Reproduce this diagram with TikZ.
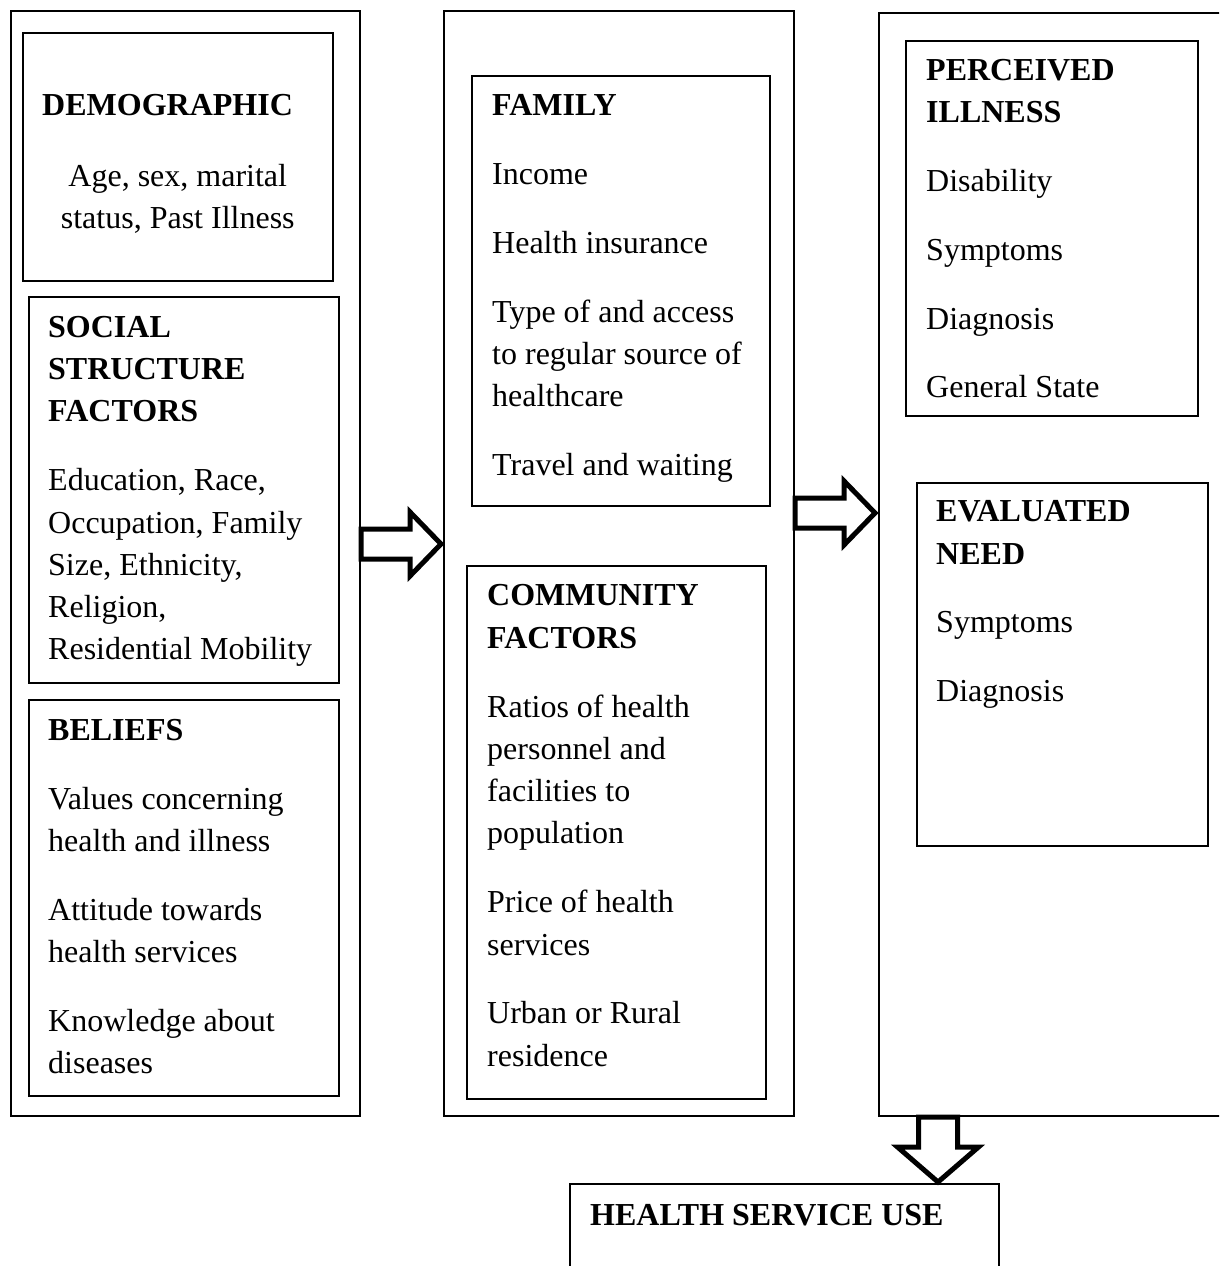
\documentclass[tikz,border=0pt]{standalone}
\usepackage{fontspec}
\setmainfont{Liberation Serif}
\usetikzlibrary{positioning}

\begin{document}
\begin{tikzpicture}[x=1pt,y=-1pt,line join=miter,
  colbox/.style={draw,line width=2pt,inner sep=0pt,anchor=north west},
  inbox/.style={draw,line width=1.5pt,inner sep=0pt,anchor=north west},
  txt/.style={inner sep=0pt,align=left,font=\fontsize{32}{42.3}\selectfont},
  blockarrow/.style={draw,line width=5pt,fill=white},
  pics/rarrow/.style={code={\draw[blockarrow] (0,-15) -- (49,-15) -- (49,-32) -- (80,0) -- (49,32) -- (49,15) -- (0,15) -- cycle;}},
  pics/darrow/.style={code={\draw[blockarrow] (-19.5,0) -- (-19.5,30) -- (-40.5,30) -- (0,65) -- (40.5,30) -- (19.5,30) -- (19.5,0) -- cycle;}}]
\useasboundingbox (0,0) rectangle (1219,1266);
\clip (0,0) rectangle (1219,1266);
% three columns
\node[colbox,minimum width=349,minimum height=1105] (colA) at (10,10) {};
\node[colbox,minimum width=350,minimum height=1105] (colB) at (443,10) {};
\node[colbox,minimum width=360,minimum height=1103] (colC) at (878,12) {};
% left column
\node[inbox,minimum width=310,minimum height=248] (demo) at (22,32) {};
\node[txt,below right=62pt and 20pt of demo.north west] (demoT) {\textbf{DEMOGRAPHIC}};
\node[txt,align=center,below=132pt of demo.north] (demoB) {Age, sex, marital\\status, Past Illness};
\node[inbox,minimum width=310,minimum height=386] (social) at (28,296) {};
\node[txt,below right=20pt and 20pt of social.north west] (socialT) {\textbf{SOCIAL}\\\textbf{STRUCTURE}\\\textbf{FACTORS}\\[26.5pt]
  Education, Race,\\Occupation, Family\\Size, Ethnicity,\\Religion,\\Residential Mobility};
\node[inbox,minimum width=310,minimum height=396] (belief) at (28,699) {};
\node[txt,below right=20pt and 20pt of belief.north west] (beliefT) {\textbf{BELIEFS}\\[26.5pt]
  Values concerning\\health and illness\\[26.5pt]Attitude towards\\health services\\[26.5pt]Knowledge about\\diseases};
% middle column
\node[inbox,minimum width=298,minimum height=430] (family) at (471,75) {};
\node[txt,below right=19.5pt and 21pt of family.north west] (familyT) {\textbf{FAMILY}\\[26.5pt]
  Income\\[26.5pt]Health insurance\\[26.5pt]Type of and access\\to regular source of\\healthcare\\[26.5pt]Travel and waiting};
\node[inbox,minimum width=299,minimum height=533] (commun) at (466,565) {};
\node[txt,below right=19.5pt and 21pt of commun.north west] (communT) {\textbf{COMMUNITY}\\\textbf{FACTORS}\\[26.5pt]
  Ratios of health\\personnel and\\facilities to\\population\\[26.5pt]Price of health\\services\\[26.5pt]Urban or Rural\\residence};
% right column
\node[inbox,minimum width=292,minimum height=375] (perceiv) at (905,40) {};
\node[txt,below right=19pt and 21pt of perceiv.north west] (perceivT) {\textbf{PERCEIVED}\\\textbf{ILLNESS}\\[26.5pt]
  Disability\\[26.5pt]Symptoms\\[26.5pt]Diagnosis\\[26.5pt]General State};
\node[inbox,minimum width=291,minimum height=363] (evalneed) at (916,482) {};
\node[txt,below right=18.5pt and 20pt of evalneed.north west] (evalneedT) {\textbf{EVALUATED}\\\textbf{NEED}\\[26.5pt]
  Symptoms\\[26.5pt]Diagnosis};
% outcome
\node[inbox,minimum width=429,minimum height=150] (hsu) at (569,1183) {};
\node[txt,below right=21pt and 21pt of hsu.north west] (hsuT) {\textbf{HEALTH SERVICE USE}};
% block arrows
\pic at ([yshift=19.5pt]colA.east) {rarrow};
\pic at ([yshift=50.5pt]colB.east) {rarrow};
\pic at ([xshift=60pt]colC.south west) {darrow};
\end{tikzpicture}
\end{document}
